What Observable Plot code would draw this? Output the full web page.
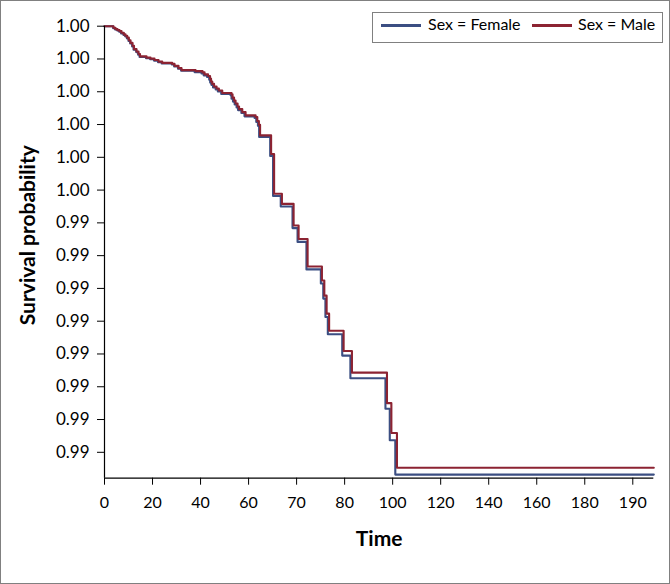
<!DOCTYPE html>
<html><head><meta charset="utf-8">
<script src="https://cdn.jsdelivr.net/npm/d3@7"></script>
<script src="https://cdn.jsdelivr.net/npm/@observablehq/plot@0.6"></script>
<style>
body{margin:0;background:#fff;}
#wrap{position:relative;width:670px;height:584px;overflow:hidden;font-family:Lato,sans-serif;background:#fff;}
#frame{position:absolute;left:0;top:0;width:670px;height:584px;box-sizing:border-box;border:1px solid #808080;pointer-events:none;}
#legend{position:absolute;left:372px;top:12px;width:291px;height:31px;box-sizing:border-box;border:1px solid #808080;background:#fff;font-size:16px;color:#000;}
.sw{position:absolute;top:11px;height:2.5px;}
.lb{position:absolute;top:2.5px;line-height:16px;white-space:nowrap;}
</style></head>
<body>
<div id="wrap">
  <div id="chart"></div>
  <div id="legend"></div>
  <div id="frame"></div>
</div>
<script>
// ---- data ----
const series = ["Female", "Male"];
const seriesColors = ["#3B4E82", "#8C2332"];
const seriesLabels = ["Sex = Female", "Sex = Male"];
const endTime = 228.75;

const femaleTime = [0, 3.6, 4.4, 5.3, 6.1, 6.9, 7.9, 8.6, 9.3, 10.0, 10.7, 11.5, 12.1, 13.2, 14.0, 14.6, 17.3, 19.0, 20.6, 22.3, 23.8, 28.0, 29.0, 30.6, 31.9, 37.5, 40.4, 41.3, 42.7, 43.6, 44.0, 44.5, 45.2, 46.3, 47.2, 48.6, 52.5, 52.9, 53.5, 54.2, 55.0, 55.6, 57.0, 58.3, 62.5, 63.2, 63.9, 64.4, 69.0, 70.2, 73.4, 78.3, 80.4, 84.1, 90.1, 91.1, 92.0, 93.0, 99.0, 102.4, 117.0, 118.8, 121.1];
const femaleSurv = [1, 0.99994, 0.99990, 0.99987, 0.99983, 0.99978, 0.99973, 0.99969, 0.99963, 0.99955, 0.99947, 0.99938, 0.99928, 0.99921, 0.99913, 0.99906, 0.99902, 0.99899, 0.99895, 0.99890, 0.99886, 0.99883, 0.99877, 0.99870, 0.99864, 0.99860, 0.99856, 0.99850, 0.99845, 0.99837, 0.99828, 0.99821, 0.99813, 0.99807, 0.99801, 0.99793, 0.99789, 0.99779, 0.99770, 0.99761, 0.99752, 0.99744, 0.99735, 0.99725, 0.99720, 0.99708, 0.99696, 0.99662, 0.99604, 0.99482, 0.99450, 0.99384, 0.99342, 0.99258, 0.99215, 0.99169, 0.99113, 0.99060, 0.98995, 0.98926, 0.98833, 0.98737, 0.98632];

const maleTime = [0, 3.75, 4.58, 5.42, 6.25, 7.08, 8.04, 8.75, 9.46, 10.13, 10.83, 11.67, 12.29, 13.33, 14.17, 14.79, 17.5, 19.17, 20.83, 22.5, 24.04, 28.21, 29.17, 30.83, 32.08, 37.92, 40.83, 41.67, 43.13, 43.96, 44.38, 44.88, 45.63, 46.67, 47.63, 49.04, 52.92, 53.33, 53.96, 54.58, 55.42, 56.04, 57.38, 58.75, 62.92, 63.63, 64.29, 64.79, 69.38, 70.63, 73.88, 78.75, 80.83, 84.58, 90.54, 91.54, 92.5, 93.54, 99.58, 103.04, 117.63, 119.46, 121.79];
const maleSurv = [1, 0.99995, 0.99991, 0.99988, 0.99985, 0.99980, 0.99975, 0.99971, 0.99965, 0.99957, 0.99949, 0.99940, 0.99930, 0.99923, 0.99915, 0.99908, 0.99904, 0.99901, 0.99897, 0.99892, 0.99888, 0.99885, 0.99879, 0.99872, 0.99866, 0.99863, 0.99859, 0.99853, 0.99848, 0.99840, 0.99831, 0.99824, 0.99816, 0.99810, 0.99804, 0.99796, 0.99792, 0.99782, 0.99773, 0.99764, 0.99755, 0.99747, 0.99738, 0.99728, 0.99723, 0.99711, 0.99699, 0.99667, 0.99610, 0.99489, 0.99458, 0.99392, 0.99351, 0.99267, 0.99224, 0.99178, 0.99123, 0.99071, 0.99009, 0.98943, 0.98850, 0.98759, 0.98653];

const xTicks = [0, 20, 40, 60, 80, 100, 120, 140, 160, 180, 200, 220];
const xTickLabels = ["0", "20", "40", "60", "70", "80", "100", "120", "140", "160", "180", "190"];
const yTicks = [1.000, 0.999, 0.998, 0.997, 0.996, 0.995, 0.994, 0.993, 0.992, 0.991, 0.990, 0.989, 0.988, 0.987];
const yTickLabels = ["1.00", "1.00", "1.00", "1.00", "1.00", "1.00", "0.99", "0.99", "0.99", "0.99", "0.99", "0.99", "0.99", "0.99"];
const yMin = 0.98621;
const xTitle = "Time";
const yTitle = "Survival probability";

// ---- build table ----
const rows = [];
function addSeries(name, times, surv) {
  times.forEach((t, i) => rows.push({sex: name, time: t, surv: surv[i]}));
  rows.push({sex: name, time: endTime, surv: surv[surv.length - 1]});
}
addSeries("Female", femaleTime, femaleSurv);
addSeries("Male", maleTime, maleSurv);

const chart = Plot.plot({
  width: 670,
  height: 584,
  marginLeft: 104,
  marginRight: 16.7,
  marginTop: 25.7,
  marginBottom: 106.3,
  style: {fontFamily: "Lato, sans-serif", fontSize: "16px", color: "#000", background: "transparent"},
  x: {domain: [0, endTime]},
  y: {domain: [yMin, 1]},
  color: {domain: series, range: seriesColors},
  marks: [
    Plot.line(rows, {x: "time", y: "surv", z: "sex", stroke: "sex", curve: "step-after", strokeWidth: 2.1}),
    Plot.ruleX([0], {stroke: "#000", strokeWidth: 1.2}),
    Plot.ruleY([yMin], {stroke: "#000", strokeWidth: 1.2}),
    Plot.axisY({ticks: yTicks, tickSize: 7, tickPadding: 8, label: null, fontSize: 17,
      tickFormat: d => yTickLabels[yTicks.indexOf(d)]}),
    Plot.axisX({ticks: xTicks, tickSize: 7, tickPadding: 11, label: null, fontSize: 16,
      tickFormat: d => xTickLabels[xTicks.indexOf(d)]}),
    Plot.text([yTitle], {frameAnchor: "left", dx: -76.5, dy: -17, rotate: -90, textAnchor: "middle", lineAnchor: "middle",
      fontSize: 21, fontWeight: "bold", fill: "#000"}),
    Plot.text([xTitle], {frameAnchor: "bottom", dy: 61.5, textAnchor: "middle", lineAnchor: "middle",
      fontSize: 21, fontWeight: "bold", fill: "#000"})
  ]
});
document.getElementById("chart").appendChild(chart);

// ---- legend ----
const legend = document.getElementById("legend");
const swLeft = [8, 159], lbLeft = [55, 205];
series.forEach((s, i) => {
  const sw = document.createElement("div");
  sw.className = "sw";
  sw.style.left = swLeft[i] + "px";
  sw.style.width = "40px";
  sw.style.background = seriesColors[i];
  legend.appendChild(sw);
  const lb = document.createElement("div");
  lb.className = "lb";
  lb.style.left = lbLeft[i] + "px";
  lb.textContent = seriesLabels[i];
  legend.appendChild(lb);
});
</script>
</body></html>
